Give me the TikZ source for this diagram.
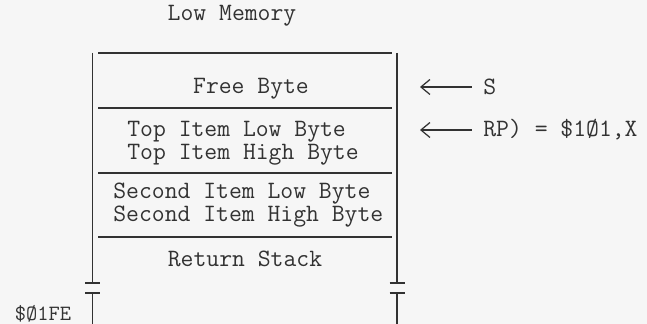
\documentclass[tikz,border=0pt]{standalone}
\usepackage{xcolor}
\usetikzlibrary{arrows.meta,positioning}

\definecolor{ink}{RGB}{50,50,50}
\definecolor{paper}{RGB}{246,246,246}

\begin{document}
\begin{tikzpicture}[
    cell/.style={font=\ttfamily\fontsize{14.2}{11.6}\selectfont, text=ink, inner sep=0pt},
    pair/.style={cell, align=left, anchor=west},
    ptrlbl/.style={cell, anchor=west, inner xsep=0.22cm},
    wall/.style={draw=ink, line width=0.8pt},
    ptr/.style={{Straight Barb[length=1.8mm,width=3mm]}-, draw=ink, line width=0.7pt}
]
\useasboundingbox[fill=paper] (0,0) rectangle (12.94,6.48);

% Title
\node[cell] (low) at (4.64,6.16) {Low Memory};

% Stack walls, broken near the bottom
\foreach \x in {1.85,7.94} {
    \draw[wall] (\x,5.42) -- (\x,0.82) (\x,0.62) -- (\x,0);
    \draw[wall] (\x-0.15,0.82) -- ++(0.3,0) (\x-0.15,0.62) -- ++(0.3,0);
}

% Row dividers
\foreach \y in {5.42,4.32,3.02,1.74}
    \draw[wall] (1.96,\y) -- (7.84,\y);

% Rows
\node[cell] (free) at (5.02,4.71) {Free Byte};
\node[pair] (top) at (2.54,3.62) {Top Item Low Byte\\Top Item High Byte};
\node[pair] (second) at (2.26,2.38) {Second Item Low Byte\\Second Item High Byte};
\node[cell] (ret) at (4.90,1.30) {Return Stack};

% Bottom address
\node[cell, font=\ttfamily\fontsize{12.4}{14}\selectfont] (base) at (0.86,0.20) {\$Ø1FE};

% Pointers
\node[ptrlbl] (sp) at (9.44,4.74) {S};
\node[ptrlbl] (rp) at (9.44,3.88) {RP) = \$1Ø1,X};
\coordinate (spTip) at (8.40,4.74);
\coordinate (rpTip) at (8.40,3.88);
\draw[ptr] (spTip) -- (sp.west);
\draw[ptr] (rpTip) -- (rp.west);
\end{tikzpicture}
\end{document}
